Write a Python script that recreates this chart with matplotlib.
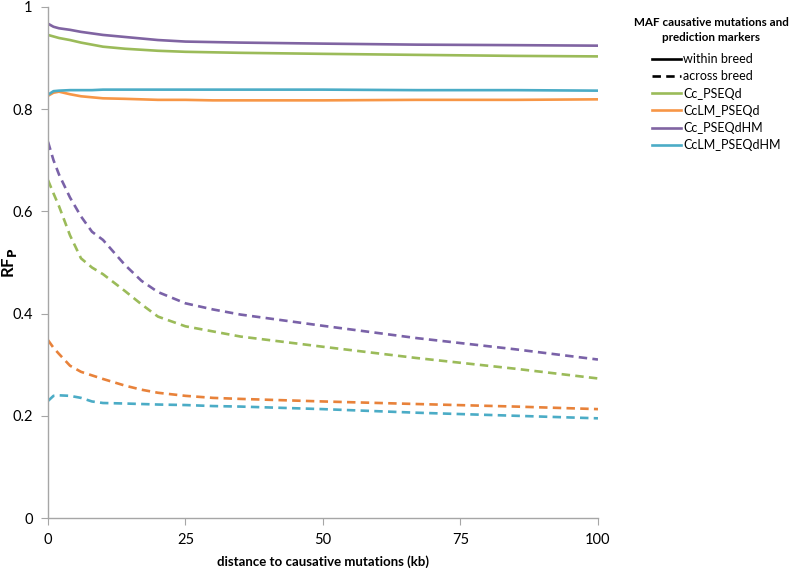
import matplotlib
matplotlib.use("Agg")
import matplotlib.pyplot as plt
from matplotlib.lines import Line2D

plt.rcParams["font.family"] = ["Lato", "DejaVu Sans"]

# distance to causative mutations (kb)
distance = [0, 1, 2, 4, 6, 8, 10, 14, 17, 20, 25, 30, 35, 50, 67, 85, 100]

# within breed (solid)
cc_pseqd_within = [0.945, 0.942, 0.939, 0.935, 0.930, 0.926, 0.922, 0.918, 0.916, 0.914,
                   0.912, 0.911, 0.910, 0.908, 0.906, 0.904, 0.903]
cclm_pseqd_within = [0.826, 0.832, 0.834, 0.829, 0.825, 0.823, 0.821, 0.820, 0.819, 0.818,
                     0.818, 0.817, 0.817, 0.817, 0.818, 0.818, 0.819]
cc_pseqdhm_within = [0.967, 0.961, 0.958, 0.955, 0.951, 0.948, 0.945, 0.941, 0.938, 0.935,
                     0.932, 0.931, 0.930, 0.928, 0.926, 0.925, 0.924]
cclm_pseqdhm_within = [0.828, 0.835, 0.836, 0.837, 0.837, 0.837, 0.838, 0.838, 0.838, 0.838,
                       0.838, 0.838, 0.838, 0.838, 0.837, 0.837, 0.836]

# across breed (dashed)
cc_pseqd_across = [0.661, 0.635, 0.610, 0.553, 0.508, 0.490, 0.477, 0.444, 0.418, 0.394,
                   0.375, 0.365, 0.355, 0.335, 0.313, 0.292, 0.273]
cclm_pseqd_across = [0.348, 0.333, 0.321, 0.298, 0.286, 0.279, 0.272, 0.259, 0.251, 0.245,
                     0.239, 0.235, 0.233, 0.228, 0.223, 0.218, 0.213]
cc_pseqdhm_across = [0.736, 0.700, 0.672, 0.627, 0.590, 0.560, 0.544, 0.495, 0.464, 0.442,
                     0.420, 0.408, 0.398, 0.376, 0.352, 0.330, 0.310]
cclm_pseqdhm_across = [0.229, 0.239, 0.240, 0.239, 0.235, 0.228, 0.225, 0.224, 0.223, 0.222,
                       0.221, 0.219, 0.218, 0.213, 0.206, 0.200, 0.195]

series_names = ["Cc_PSEQd", "CcLM_PSEQd", "Cc_PSEQdHM", "CcLM_PSEQdHM"]
colors = ["#9BBB59", "#F79646", "#8064A2", "#4BACC6"]
dash_colors = ["#9BBB59", "#E8823A", "#7A62A8", "#4BACC6"]
within = [cc_pseqd_within, cclm_pseqd_within, cc_pseqdhm_within, cclm_pseqdhm_within]
across = [cc_pseqd_across, cclm_pseqd_across, cc_pseqdhm_across, cclm_pseqdhm_across]

LW = 1.9
DASH = (3.2, 2.0)

fig = plt.figure(figsize=(7.92, 5.68), dpi=100)
ax = fig.add_axes([0.0606, 0.088, 0.6944, 0.9])

for vals, col in zip(within, colors):
    ax.plot(distance, vals, color=col, lw=LW)
for vals, col in zip(across, dash_colors):
    ax.plot(distance, vals, color=col, lw=LW, dashes=DASH)

ax.set_xlim(0, 100)
ax.set_ylim(0, 1)
ax.set_xticks([0, 25, 50, 75, 100])
ax.set_yticks([0, 0.2, 0.4, 0.6, 0.8, 1.0])
ax.set_yticklabels(["0", "0.2", "0.4", "0.6", "0.8", "1"])
for side in ("top", "right"):
    ax.spines[side].set_visible(False)
for side in ("left", "bottom"):
    ax.spines[side].set_color("#A6A6A6")
    ax.spines[side].set_linewidth(1.0)
ax.tick_params(direction="out", length=5, color="#A6A6A6", labelsize=10.5, pad=6)
ax.set_xlabel("distance to causative mutations (kb)", fontsize=9.5, fontweight="bold")
ax.xaxis.set_label_coords(0.5, -0.073)
ax.set_ylabel("RF$_\\mathbf{P}$", fontsize=12, fontweight="bold")
ax.yaxis.set_label_coords(-0.052, 0.5)

# legend title drawn as its own text
fig.text(711 / 792, 1 - 30 / 568, "MAF causative mutations and\nprediction markers",
         ha="center", va="center", fontsize=8.4, fontweight="bold", linespacing=1.45)

handles = [Line2D([], [], color="black", lw=LW),
           Line2D([], [], color="black", lw=LW, dashes=DASH)]
handles += [Line2D([], [], color=c, lw=LW) for c in colors]
labels = ["within breed", "across breed"] + series_names
fig.legend(handles, labels, loc="upper left", bbox_to_anchor=(652 / 792, 1 - 53 / 568),
           frameon=False, fontsize=9, handlelength=2.3, handletextpad=0.2,
           labelspacing=0.42, borderpad=0, borderaxespad=0)

fig.savefig("out.png", dpi=100)
